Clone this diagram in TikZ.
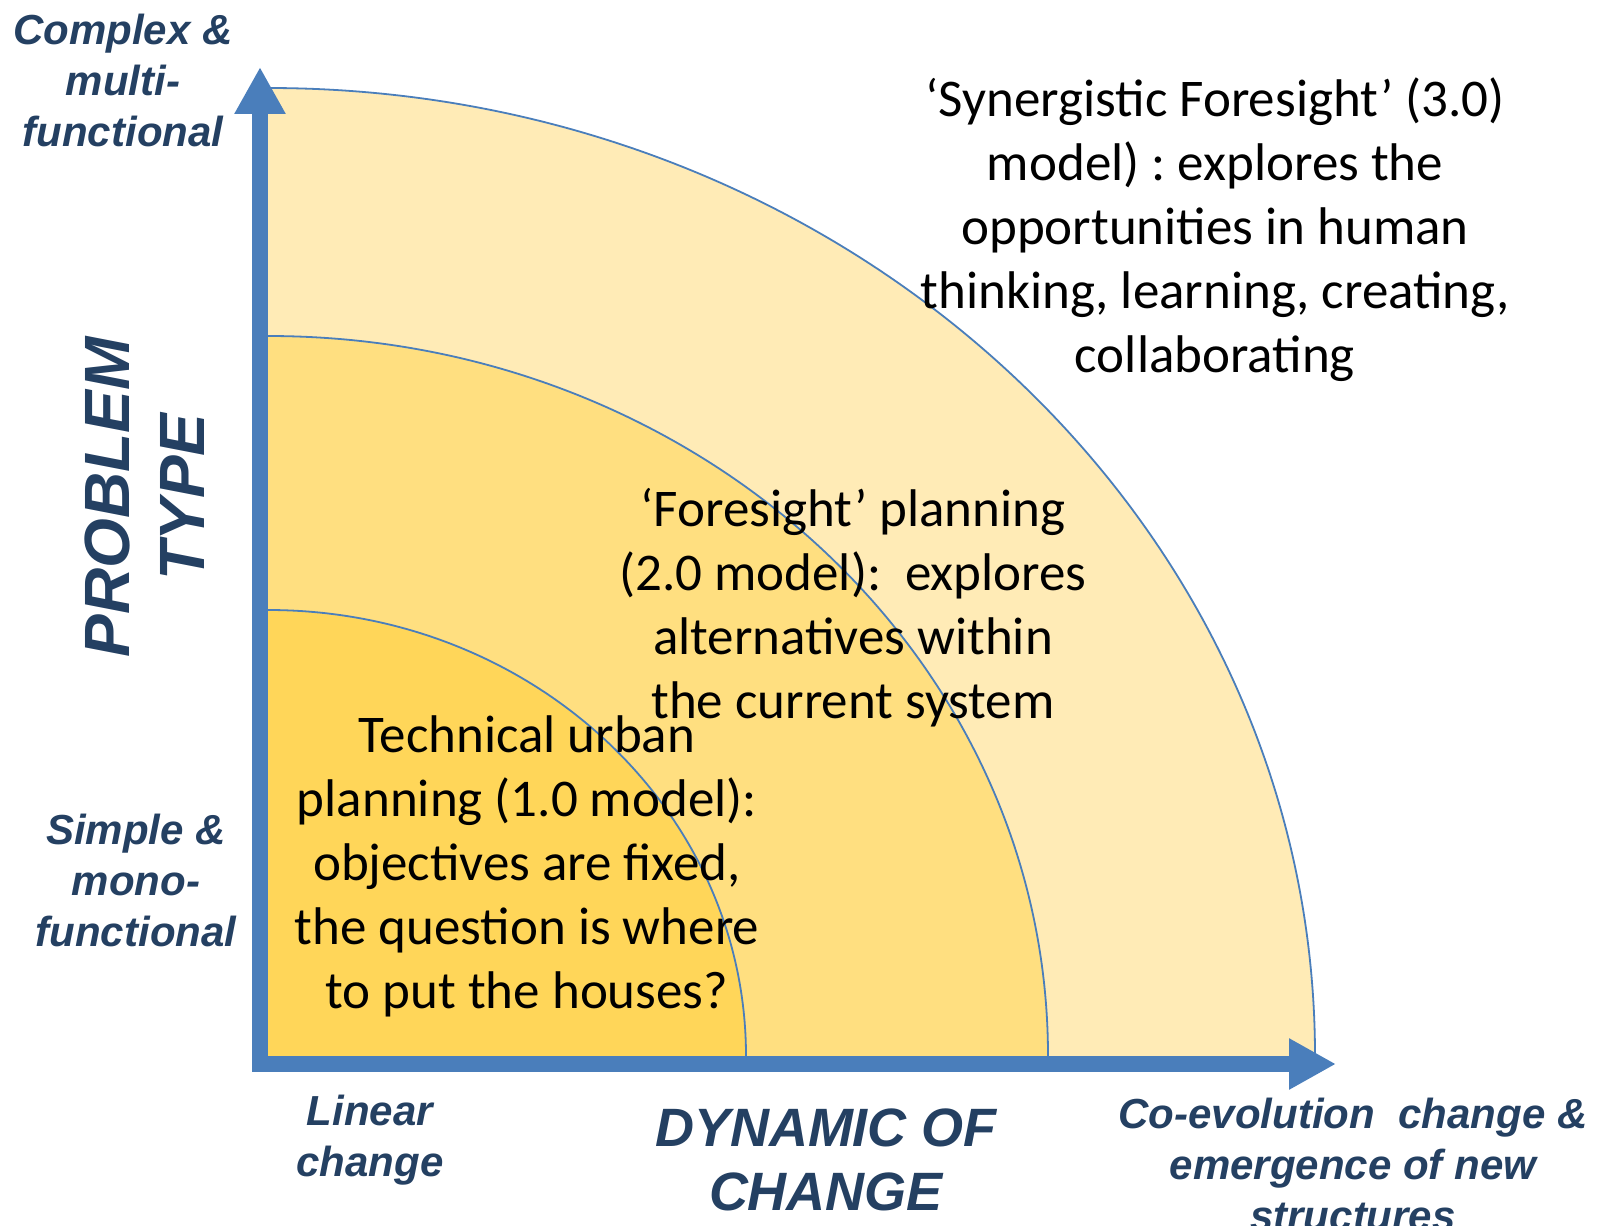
\documentclass[tikz,border=0pt]{standalone}
\usepackage{fontspec}
\setmainfont{Carlito}
\newfontfamily\axisfont{Liberation Sans}
\usetikzlibrary{arrows.meta}
\definecolor{axisblue}{RGB}{74,126,187}
\definecolor{labelnavy}{RGB}{36,64,98}
\definecolor{zoneone}{RGB}{255,214,89}
\definecolor{zonetwo}{RGB}{255,223,128}
\definecolor{zonethree}{RGB}{255,235,182}
\frenchspacing

\begin{document}
\begin{tikzpicture}[
    x=1pt, y=1pt,
    % Text inside the quarter rings
    zonetxt/.style={align=center, text=black, inner sep=0pt, font=\fontsize{53}{64}\selectfont},
    % Labels at the ends of the axes
    endlbl/.style={align=center, text=labelnavy, inner sep=0pt, font=\axisfont\bfseries\itshape\fontsize{42}{51}\selectfont},
    % Axis titles
    axistitle/.style={align=center, text=labelnavy, inner sep=0pt, font=\axisfont\bfseries\itshape\fontsize{54}{64}\selectfont},
    % Thin outline of each ring
    arcline/.style={draw=axisblue, line width=1.8pt},
    % The two axes
    axisline/.style={draw=axisblue, line width=16pt, line join=miter,
        {Triangle[length=47pt,width=48pt]}-{Triangle[length=47pt,width=48pt]}}
]
    \useasboundingbox (0,0) rectangle (1602,-1225);

    \coordinate (origin) at (268,-1056);
    \coordinate (ytip) at (260,-67);
    \coordinate (corner) at (260,-1064);
    \coordinate (xtip) at (1336,-1064);

    % --- QUARTER RINGS (outer first) ---
    \foreach \rx/\ry/\col in {1047/968/zonethree, 780/720/zonetwo, 478/446/zoneone} {
        \fill[\col] (origin) -- ++(0,\ry) arc[start angle=90, end angle=0, x radius=\rx, y radius=\ry] -- cycle;
        \draw[arcline] (origin) ++(0,\ry) arc[start angle=90, end angle=0, x radius=\rx, y radius=\ry];
    }

    % --- AXES ---
    \draw[axisline] (ytip) -- (corner) -- (xtip);

    % --- RING TEXTS ---
    \node[zonetxt] (synergy) at (1215,-230) {‘Synergistic Foresight’ (3.0)\\model) : explores the\\opportunities in human\\thinking, learning, creating,\\collaborating};
    \node[zonetxt] (foresight) at (853,-608) {‘Foresight’ planning\\(2.0 model): \ explores\\alternatives within\\the current system};
    \node[zonetxt] (technical) at (527,-866) {Technical urban\\planning (1.0 model):\\objectives are fixed,\\the question is where\\to put the houses?};

    % --- AXIS LABELS ---
    \node[endlbl] (complex) at (123,-80) {Complex \&\\multi-\\functional};
    \node[endlbl] (simple) at (136,-880) {Simple \&\\mono-\\functional};
    \node[endlbl] (linear) at (370,-1140) {Linear\\change};
    \node[endlbl] (coevol) at (1353,-1164) {Co-evolution \ change \&\\emergence of new\\structures};
    \node[axistitle, rotate=90, font=\axisfont\bfseries\itshape\fontsize{64}{75}\selectfont] (ptype) at (145,-497) {PROBLEM\\TYPE};
    \node[axistitle] (dynamic) at (826,-1160) {DYNAMIC OF\\CHANGE};

\end{tikzpicture}
\end{document}
